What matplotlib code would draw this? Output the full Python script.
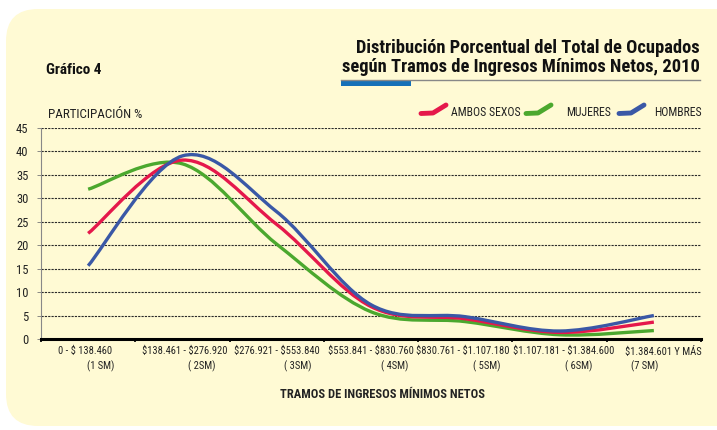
import matplotlib
matplotlib.use("Agg")
import matplotlib.pyplot as plt
from matplotlib import font_manager
from matplotlib.path import Path
from matplotlib.patches import PathPatch, FancyBboxPatch
from matplotlib.lines import Line2D
import numpy as np

# ---------------- data ----------------
categories = ["0 - $ 138.460", "$138.461 - $276.920", "$276.921 - $553.840",
              "$553.841 - $830.760", "$830.761 - $1.107.180",
              "$1.107.181 - $1.384.600", "$1.384.601 Y MÁS"]
sm_labels = ["(1 SM)", "( 2SM)", "( 3SM)", "( 4SM)", "( 5SM)", "( 6SM)", "(7 SM)"]
ambos = [22.5, 38.1, 24.4, 6.9, 4.3, 1.4, 3.6]
mujeres = [31.9, 37.3, 20.2, 5.8, 3.7, 0.9, 1.8]
hombres = [15.6, 39.0, 27.1, 7.3, 4.75, 1.7, 5.0]
series_names = ["AMBOS SEXOS", "MUJERES", "HOMBRES"]
yticks = [0, 5, 10, 15, 20, 25, 30, 35, 40, 45]

RED = "#E5184B"
GREEN = "#4BA82E"
BLUE = "#3A58A6"
BG = "#FFFAD4"

plt.rcParams["text.parse_math"] = False

# ---------------- fonts ----------------
names = {f.name for f in font_manager.fontManager.ttflist}
cond = None
for cand in ["Roboto Condensed", "Liberation Sans Narrow", "DejaVu Sans Condensed",
             "Open Sans Condensed", "Arial Narrow"]:
    if cand in names:
        cond = cand
        break
if cond is None:
    cond = "Liberation Sans"
plt.rcParams["font.family"] = [cond, "DejaVu Sans"]

W, H = 717, 430
fig = plt.figure(figsize=(W / 100, H / 100), dpi=100)
fig.patch.set_facecolor("white")


def fx(x):
    return x / W


def fy(y):
    return 1 - y / H


# background rounded box (in inches, so corners are round)
box = FancyBboxPatch((0.06, 0.04), 7.6, 4.17,
                     boxstyle="round,pad=0,rounding_size=0.32",
                     transform=fig.dpi_scale_trans, facecolor=BG, edgecolor="none", zorder=-10)
fig.patches.append(box)

# axes
left, right, top, bottom = 41, 701, 127.7, 339
ax = fig.add_axes([fx(left), fy(bottom), fx(right - left), (bottom - top) / H])
ax.set_zorder(5)
ax.patch.set_alpha(0)
ax.set_xlim(-0.5, 6.5)
ax.set_ylim(0, 45)

for yv in yticks[1:]:
    ax.axhline(yv, color="#2a2a2a", lw=0.8, ls=(0, (2, 1)), zorder=1)

ax.set_yticks(yticks)
ax.set_yticklabels([str(v) for v in yticks], fontsize=9, color="#222222")
ax.tick_params(axis="y", length=3, width=0.6, color="#777777", pad=6)
ax.set_xticks(np.arange(-0.5, 7.0, 1.0))
ax.set_xticklabels([])
ax.tick_params(axis="x", length=2.5, width=1.2, color="black", direction="out")
for s in ["top", "right"]:
    ax.spines[s].set_visible(False)
ax.spines["left"].set_color("#888888")
ax.spines["left"].set_linewidth(0.8)
ax.spines["bottom"].set_color("black")
ax.spines["bottom"].set_linewidth(2.2)


def smooth_path(xs, ys):
    pts = np.column_stack([xs, ys]).astype(float)
    n = len(pts)
    verts = [pts[0]]
    codes = [Path.MOVETO]
    for i in range(n - 1):
        p0 = pts[i - 1] if i > 0 else pts[i]
        p1 = pts[i]
        p2 = pts[i + 1]
        p3 = pts[i + 2] if i + 2 < n else pts[i + 1]
        c1 = p1 + (p2 - p0) / 6.0
        c2 = p2 - (p3 - p1) / 6.0
        verts += [c1, c2, p2]
        codes += [Path.CURVE4] * 3
    return Path(verts, codes)


xs = np.arange(len(categories))
for vals, col in [(mujeres, GREEN), (ambos, RED), (hombres, BLUE)]:
    p = smooth_path(xs, vals)
    ax.add_patch(PathPatch(p, fill=False, edgecolor=col, lw=2.4, capstyle="butt",
                           joinstyle="round", zorder=3))

# category labels
sm_offsets = [0.13, 0.2, 0.22, 0.25, 0.23, 0.2, -0.1]
cat_offsets = [-0.03, 0.02, 0.0, 0.0, -0.03, 0.04, 0.1]
for i, (c, s) in enumerate(zip(categories, sm_labels)):
    fig.text(fx(left + (i + 0.5 + cat_offsets[i]) * (right - left) / 7), fy(351), c,
             ha="center", va="center", fontsize=7.6, color="#222222")
    fig.text(fx(left + (i + 0.5 + sm_offsets[i]) * (right - left) / 7), fy(366), s,
             ha="center", va="center", fontsize=7.6, color="#222222")

fig.text(fx(383), fy(394), "TRAMOS DE INGRESOS MÍNIMOS NETOS", ha="center", va="center",
         fontsize=9, fontweight="bold", color="#222222")

# titles
fig.text(fx(700), fy(48), "Distribución Porcentual del Total de Ocupados", ha="right",
         va="center", fontsize=13.3, fontweight="bold", color="#111111")
fig.text(fx(700), fy(67), "según Tramos de Ingresos Mínimos Netos, 2010", ha="right",
         va="center", fontsize=13.3, fontweight="bold", color="#111111")
fig.lines.append(Line2D([fx(341), fx(700)], [fy(79.5), fy(79.5)], transform=fig.transFigure,
                        color="#888888", lw=1.0))
fig.patches.append(plt.Rectangle((fx(341), fy(86)), fx(70), 5 / H, transform=fig.transFigure,
                                 facecolor="#1570B8", edgecolor="none"))
fig.text(fx(46), fy(70), "Gráfico 4", ha="left", va="center", fontsize=11,
         fontweight="bold", color="#111111")
fig.text(fx(48), fy(115), "PARTICIPACIÓN %", ha="left", va="center", fontsize=9.4,
         color="#222222")

# legend
leg = [(421, RED, series_names[0], 451), (526, GREEN, series_names[1], 566),
       (619, BLUE, series_names[2], 654)]
for x0, col, name, tx in leg:
    xsl = [x0, x0 + 12, x0 + 25]
    ysl = [113.5, 113, 105]
    fig.lines.append(Line2D([fx(v) for v in xsl], [fy(v) for v in ysl],
                            transform=fig.transFigure, color=col, lw=3.5,
                            solid_capstyle="round", solid_joinstyle="round"))
    fig.text(fx(tx), fy(112), name, ha="left", va="center", fontsize=8.5, color="#222222")

fig.savefig("out.png", dpi=100, facecolor="white")
